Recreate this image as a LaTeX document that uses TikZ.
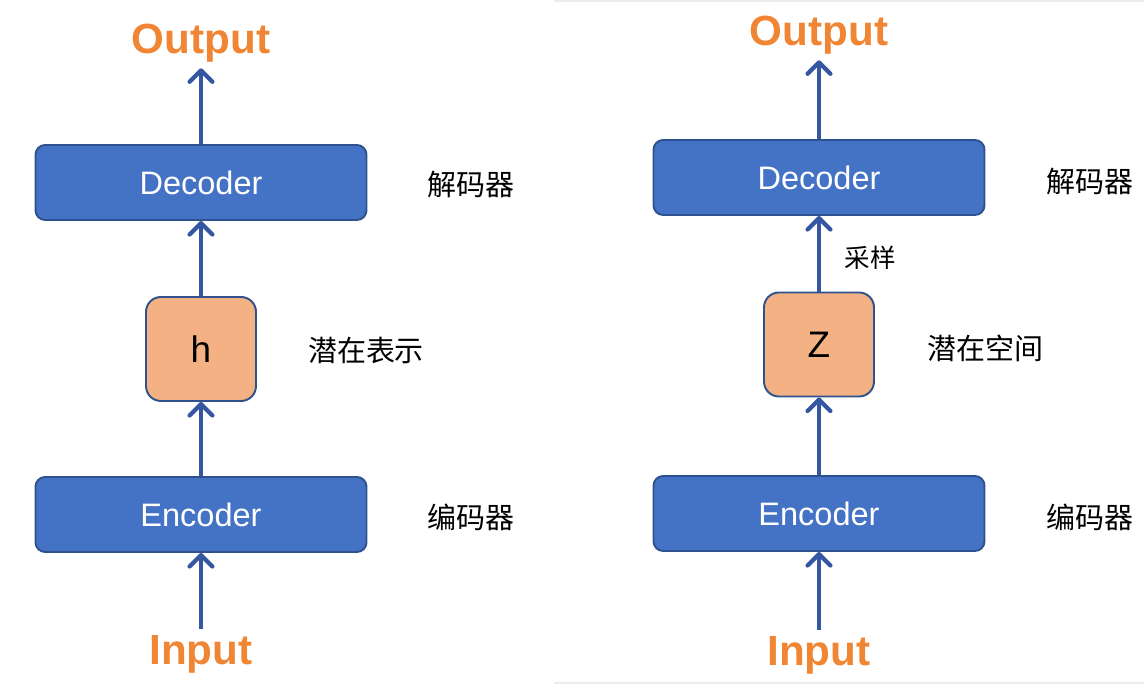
\documentclass[tikz,border=0pt]{standalone}
\usepackage{fontspec}
\setsansfont{Liberation Sans}
\newfontfamily\cjk{Noto Sans CJK SC}
\usepackage{tikz}
\usetikzlibrary{arrows.meta,positioning}
\definecolor{aeblue}{HTML}{4472C4}
\definecolor{aeedge}{HTML}{2F528F}
\definecolor{aearrow}{HTML}{3556A0}
\definecolor{aepeach}{HTML}{F4B183}
\definecolor{aeorange}{HTML}{F08533}

\begin{document}
\begin{tikzpicture}[font=\sffamily,
  block/.style={draw=aeedge,line width=1.1pt,fill=aeblue,rounded corners=5.5pt,minimum width=6.62cm,minimum height=1.5cm,text=white,font=\sffamily\fontsize{18.5}{20}\selectfont},
  latent/.style={draw=aeedge,line width=1.1pt,fill=aepeach,rounded corners=8.5pt,minimum width=2.2cm,minimum height=2.08cm,font=\sffamily\fontsize{21}{24}\selectfont},
  io/.style={text=aeorange,font=\sffamily\bfseries\fontsize{24}{26}\selectfont},
  note/.style={font=\cjk\fontsize{16.5}{18}\selectfont},
  flow/.style={draw=aearrow,line width=2.4pt,-{Straight Barb[length=6.5pt,width=13pt,line cap=round,line join=round]}}]
  \useasboundingbox (0,0) rectangle (22.88,13.68);
  % faint frame of the right panel
  \draw[gray!15,line width=0.6pt] (11.08,13.66) -- (22.88,13.66);
  \draw[gray!15,line width=0.6pt] (11.08,0.02) -- (22.88,0.02);
  % left: plain autoencoder
  \node[io] (in1) at (4.02,0.6) {Input};
  \node[block] (enc1) at (4.02,3.39) {Encoder};
  \node[latent] (lat1) at (4.02,6.7) {h};
  \node[block] (dec1) at (4.02,10.03) {Decoder};
  \node[io] (out1) at (4.02,12.82) {Output};
  \node[note] (encl1) at (9.42,3.34) {编码器};
  \node[note] (latl1) at (7.32,6.68) {潜在表示};
  \node[note] (decl1) at (9.42,9.98) {解码器};
  \draw[flow] (in1) -- (enc1);
  \draw[flow] (enc1) -- (lat1);
  \draw[flow] (lat1) -- (dec1);
  \draw[flow] (dec1) -- (out1);
  % right: variational autoencoder
  \node[io] (in2) at (16.38,0.58) {Input};
  \node[block] (enc2) at (16.38,3.41) {Encoder};
  \node[latent] (lat2) at (16.38,6.79) {Z};
  \node[block] (dec2) at (16.38,10.13) {Decoder};
  \node[io] (out2) at (16.38,12.98) {Output};
  \node[note] (encl2) at (21.8,3.34) {编码器};
  \node[note] (latl2) at (19.7,6.72) {潜在空间};
  \node[note] (decl2) at (21.8,10.04) {解码器};
  \node[font=\cjk\fontsize{14.5}{16}\selectfont] (samp) at (17.4,8.52) {采样};
  \draw[flow] (in2) -- (enc2);
  \draw[flow] (enc2) -- (lat2);
  \draw[flow] (lat2) -- (dec2);
  \draw[flow] (dec2) -- (out2);
\end{tikzpicture}
\end{document}
